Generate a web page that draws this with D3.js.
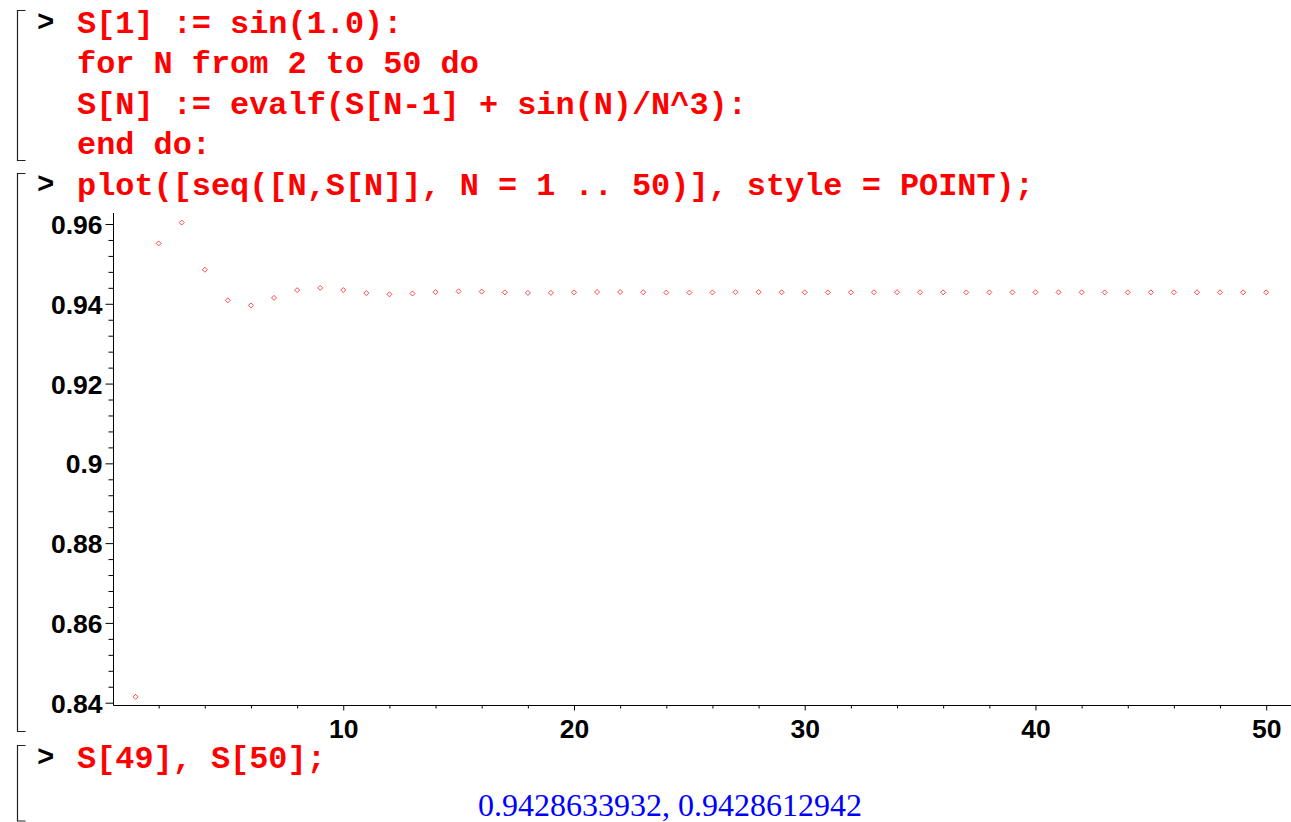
<!DOCTYPE html>
<html>
<head>
<meta charset="utf-8">
<script src="https://cdn.jsdelivr.net/npm/d3@7"></script>
<style>
  html, body { margin: 0; padding: 0; background: #ffffff; }
  svg { display: block; }
  .code { font-family: "Liberation Mono", "Courier New", monospace; font-weight: bold; font-size: 31.9px; fill: #ff0000; white-space: pre; }
  .prompt { font-family: "Liberation Mono", "Courier New", monospace; font-weight: bold; font-size: 29px; fill: #000000; }
  .result { font-family: "Liberation Serif", "Times New Roman", serif; font-size: 32px; fill: #0000ff; }
  .tick text { font-family: "Liberation Sans", Arial, sans-serif; font-size: 26.5px; font-weight: bold; fill: #000000; }
</style>
</head>
<body>
<svg id="sheet" width="1291" height="822"></svg>
<script>
// Worksheet input lines
const block1 = [
  "S[1] := sin(1.0):",
  "for N from 2 to 50 do",
  "S[N] := evalf(S[N-1] + sin(N)/N^3):",
  "end do:"
];
const block2 = ["plot([seq([N,S[N]], N = 1 .. 50)], style = POINT);"];
const block3 = ["S[49], S[50];"];
const resultText = "0.9428633932, 0.9428612942";

// Partial sums S[N]
const nValues = [1, 2, 3, 4, 5, 6, 7, 8, 9, 10,
  11, 12, 13, 14, 15, 16, 17, 18, 19, 20,
  21, 22, 23, 24, 25, 26, 27, 28, 29, 30,
  31, 32, 33, 34, 35, 36, 37, 38, 39, 40,
  41, 42, 43, 44, 45, 46, 47, 48, 49, 50];
const sValues = [0.841471, 0.955133, 0.960360, 0.948535, 0.940863, 0.939570, 0.941485, 0.943417, 0.943983, 0.943439,
  0.942687, 0.942377, 0.942568, 0.942929, 0.943122, 0.943052, 0.942856, 0.942727, 0.942749, 0.942863,
  0.942953, 0.942952, 0.942883, 0.942817, 0.942809, 0.942852, 0.942901, 0.942913, 0.942886, 0.942849,
  0.942836, 0.942853, 0.942880, 0.942894, 0.942884, 0.942862, 0.942850, 0.942855, 0.942871, 0.942883,
  0.942881, 0.942868, 0.942858, 0.942858, 0.942867, 0.942877, 0.942878, 0.942871, 0.9428633932, 0.9428612942];

// Axis ticks
const yMajorTicks = [0.84, 0.86, 0.88, 0.90, 0.92, 0.94, 0.96];
const yTickLabels = ["0.84", "0.86", "0.88", "0.9", "0.92", "0.94", "0.96"];
const yMinorTicks = [0.844, 0.848, 0.852, 0.856, 0.864, 0.868, 0.872, 0.876, 0.884, 0.888, 0.892, 0.896,
  0.904, 0.908, 0.912, 0.916, 0.924, 0.928, 0.932, 0.936, 0.944, 0.948, 0.952, 0.956];
const xMajorTicks = [10, 20, 30, 40, 50];
const xTickLabels = ["10", "20", "30", "40", "50"];
const xMinorTicks = [2, 4, 6, 8, 12, 14, 16, 18, 22, 24, 26, 28, 32, 34, 36, 38, 42, 44, 46, 48];

const svg = d3.select("#sheet");

// Execution-group brackets on the left margin
function bracket(y0, y1) {
  const g = svg.append("g").attr("stroke", "#222").attr("stroke-width", 1.2).attr("fill", "none");
  g.append("path").attr("d", `M25.5,${y0}H17.5V${y1}H25.5`);
}
bracket(10.5, 160.5);
bracket(173.5, 731.5);
bracket(745.5, 821);

function prompt(y) {
  svg.append("text").attr("class", "prompt").attr("x", 37).attr("y", y).text(">");
}

// Input lines
const codeX = 77;
block1.forEach((t, i) => {
  svg.append("text").attr("class", "code").attr("x", codeX).attr("y", 33 + i * 40.3).text(t);
});
prompt(31);
svg.append("text").attr("class", "code").attr("x", codeX).attr("y", 195).text(block2[0]);
prompt(193);
svg.append("text").attr("class", "code").attr("x", codeX).attr("y", 768).text(block3[0]);
prompt(766);

// Output value
svg.append("text").attr("class", "result").attr("x", 670).attr("y", 816)
  .attr("text-anchor", "middle").text(resultText);

// Plot
const x = d3.scaleLinear().domain([1, 50]).range([135.6, 1266.2]);
const y = d3.scaleLinear().domain([0.84, 0.96]).range([702.7, 224]);
const axisX = 113.5, axisY = 705.5;

const plot = svg.append("g");

// Y axis
const yAxisMajor = d3.axisLeft(y).tickValues(yMajorTicks)
  .tickFormat((d, i) => yTickLabels[i]).tickSize(8).tickPadding(3);
const yAxisMinor = d3.axisLeft(y).tickValues(yMinorTicks).tickFormat("").tickSize(5);
const gy = plot.append("g").attr("transform", `translate(${axisX},0)`).call(yAxisMajor);
const gyMinor = plot.append("g").attr("transform", `translate(${axisX},0)`).call(yAxisMinor);
[gy, gyMinor].forEach(g => {
  g.select(".domain").remove();
  g.selectAll("line").attr("stroke", "#000");
});
gy.selectAll("text").attr("dy", "0.36em");

// X axis
const xAxisMajor = d3.axisBottom(x).tickValues(xMajorTicks)
  .tickFormat((d, i) => xTickLabels[i]).tickSize(5).tickPadding(9);
const xAxisMinor = d3.axisBottom(x).tickValues(xMinorTicks).tickFormat("").tickSize(3);
const gx = plot.append("g").attr("transform", `translate(0,${axisY})`).call(xAxisMajor);
const gxMinor = plot.append("g").attr("transform", `translate(0,${axisY})`).call(xAxisMinor);
[gx, gxMinor].forEach(g => {
  g.select(".domain").remove();
  g.selectAll("line").attr("stroke", "#000");
});

// Axis lines
plot.append("line").attr("x1", axisX).attr("x2", axisX).attr("y1", 213).attr("y2", axisY)
  .attr("stroke", "#000").attr("stroke-width", 1);
plot.append("line").attr("x1", axisX).attr("x2", 1291).attr("y1", axisY).attr("y2", axisY)
  .attr("stroke", "#000").attr("stroke-width", 1);

// Point markers (small hollow diamonds)
const r = 2.5;
plot.append("g").selectAll("path")
  .data(nValues.map((n, i) => ({ n, s: sValues[i] })))
  .join("path")
  .attr("d", d => {
    const cx = x(d.n), cy = y(d.s);
    return `M${cx},${cy - r}L${cx + r},${cy}L${cx},${cy + r}L${cx - r},${cy}Z`;
  })
  .attr("fill", "none")
  .attr("stroke", "#ff0000")
  .attr("stroke-opacity", 0.7)
  .attr("stroke-width", 1);
</script>
</body>
</html>
